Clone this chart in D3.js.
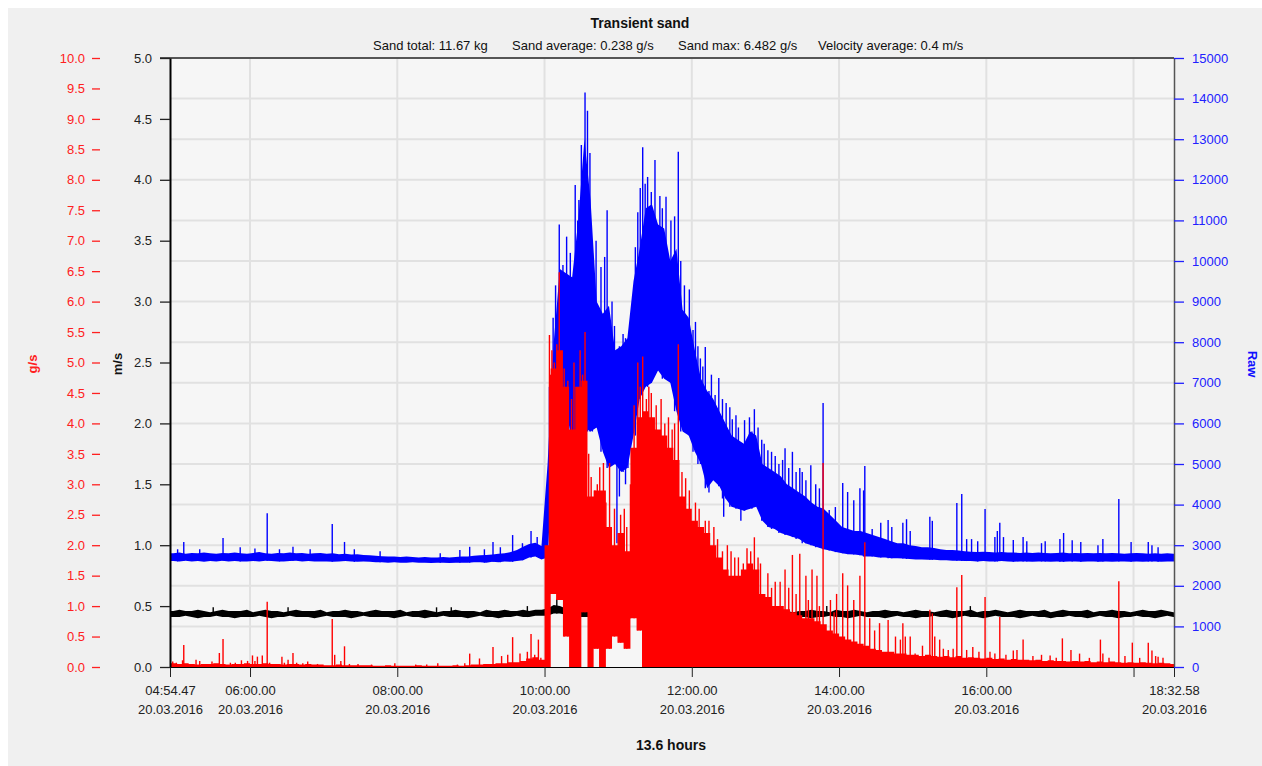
<!DOCTYPE html>
<html>
<head>
<meta charset="utf-8">
<script src="https://cdn.jsdelivr.net/npm/d3@7"></script>
<style>
  html, body { margin: 0; padding: 0; background: #fff; }
  svg { display: block; font-family: "Liberation Sans", Arial, sans-serif; }
</style>
</head>
<body>
<svg id="chart" width="1262" height="766"></svg>
<script>
// ---- data ----
const day = "20.03.2016"
const startTime = "04:54:47"
const endTime = "18:32:58"

// 5 minute bins starting 04:55, each bin: lowest / highest value seen
const binStart = "04:55:00"
const binMinutes = 5

const rawLo = [
  2610,2600,2620,2600,2610,2590,2610,2600,2620,2600,
  2610,2600,2600,2610,2600,2620,2610,2600,2600,2610,
  2620,2600,2610,2600,2600,2600,2590,2600,2610,2600,
  2590,2600,2590,2580,2580,2570,2580,2570,2570,2580,
  2570,2570,2560,2570,2570,2560,2570,2570,2570,2580,
  2580,2570,2590,2580,2600,2590,2610,2630,2700,2720,
  2650,2700,5400,6000,6300,5600,6000,5900,5800,5900,
  5300,4900,5000,4800,4900,5700,6600,6900,7000,7300,
  7100,7000,6300,5800,5700,5300,5000,4400,4600,4450,
  4150,3950,3900,3850,3900,3950,3600,3450,3400,3300,
  3250,3200,3150,3050,3000,2950,2900,2870,2830,2800,
  2780,2770,2750,2720,2720,2700,2700,2680,2680,2670,
  2660,2650,2650,2640,2640,2630,2630,2620,2620,2610,
  2610,2600,2610,2600,2600,2610,2600,2590,2600,2600,
  2590,2600,2600,2590,2600,2590,2600,2600,2590,2600,
  2600,2590,2600,2590,2600,2600,2590,2600,2590,2600,
  2600,2590,2600,2600
]
const rawHi = [
  2800,2820,2790,2810,2800,2820,2800,2790,2810,2800,
  2820,2800,2790,2810,2830,2800,2790,2810,2800,2820,
  2800,2810,2790,2800,2810,2790,2800,2780,2790,2770,
  2780,2760,2750,2740,2730,2720,2720,2710,2720,2710,
  2700,2710,2700,2700,2710,2700,2710,2720,2720,2740,
  2750,2760,2770,2790,2800,2830,2880,2960,3030,3060,
  2980,5000,8000,9800,9700,9600,11000,13000,11500,9000,
  8700,8900,7800,7900,8100,9500,10300,11300,11400,10900,
  10800,10000,10300,8800,8600,7800,7100,6800,6600,6300,
  6000,5700,5600,5500,5800,5700,5000,4900,4800,4700,
  4500,4400,4300,4200,4050,3950,3900,3750,3600,3450,
  3400,3350,3350,3300,3250,3200,3150,3100,3050,3050,
  3000,2980,2950,2950,2930,2900,2880,2880,2870,2850,
  2840,2830,2840,2830,2820,2830,2820,2820,2810,2820,
  2810,2820,2810,2800,2810,2820,2800,2810,2800,2810,
  2800,2810,2800,2810,2800,2790,2800,2810,2800,2790,
  2800,2790,2800,2790
]
const sandLo = [
  0,0,0,0,0,0,0,0,0,0,
  0,0,0,0,0,0,0,0,0,0,
  0,0,0,0,0,0,0,0,0,0,
  0,0,0,0,0,0,0,0,0,0,
  0,0,0,0,0,0,0,0,0,0,
  0,0,0,0,0,0,0,0,0,0,
  0,0,1.2,1.1,0.5,0,0,0.9,0,0.3,
  0,0.3,0.5,0.4,0.3,0.8,0.6,0,0,0,
  0,0,0,0,0,0,0,0,0,0,
  0,0,0,0,0,0,0,0,0,0,
  0,0,0,0,0,0,0,0,0,0,
  0,0,0,0,0,0,0,0,0,0,
  0,0,0,0,0,0,0,0,0,0,
  0,0,0,0,0,0,0,0,0,0,
  0,0,0,0,0,0,0,0,0,0,
  0,0,0,0,0,0,0,0,0,0,
  0,0,0,0
]
const sandHi = [
  0.06,0.05,0.06,0.05,0.04,0.05,0.05,0.06,0.05,0.04,
  0.05,0.05,0.06,0.05,0.05,0.06,0.05,0.05,0.04,0.05,
  0.05,0.04,0.05,0.04,0.04,0.03,0.03,0.04,0.03,0.03,
  0.03,0.03,0.03,0.02,0.02,0.03,0.02,0.02,0.02,0.02,
  0.03,0.02,0.02,0.02,0.02,0.02,0.03,0.02,0.03,0.04,
  0.04,0.05,0.05,0.06,0.06,0.08,0.08,0.10,0.14,0.16,
  0.12,2.0,4.9,5.2,4.6,3.9,4.6,4.7,2.8,2.9,
  2.9,2.3,2.0,2.2,1.9,3.6,4.1,4.2,4.1,3.9,
  3.8,3.6,3.4,2.8,2.6,2.4,2.3,2.2,2.0,1.8,
  1.6,1.5,1.5,1.6,1.7,1.6,1.2,1.15,1.0,1.0,
  0.95,0.9,0.85,0.8,0.8,0.75,0.7,0.6,0.55,0.5,
  0.45,0.42,0.38,0.35,0.3,0.28,0.25,0.25,0.22,0.22,
  0.2,0.2,0.18,0.2,0.18,0.17,0.18,0.16,0.18,0.15,
  0.16,0.15,0.14,0.15,0.13,0.14,0.12,0.13,0.12,0.12,
  0.11,0.12,0.1,0.11,0.1,0.1,0.09,0.1,0.09,0.1,
  0.08,0.09,0.08,0.09,0.08,0.07,0.08,0.07,0.08,0.07,
  0.06,0.07,0.06,0.05
]
const velLo = [
  0.41,0.41,0.42,0.41,0.40,0.41,0.41,0.42,0.41,0.41,
  0.40,0.41,0.41,0.41,0.42,0.41,0.40,0.41,0.41,0.42,
  0.41,0.41,0.41,0.40,0.41,0.42,0.41,0.41,0.41,0.40,
  0.41,0.42,0.41,0.41,0.41,0.41,0.40,0.41,0.42,0.41,
  0.41,0.40,0.41,0.41,0.42,0.41,0.41,0.41,0.40,0.41,
  0.42,0.41,0.41,0.40,0.41,0.41,0.42,0.41,0.41,0.42,
  0.42,0.42,0.44,0.44,0.43,0.42,0.41,0.41,0.41,0.40,
  0.41,0.42,0.41,0.41,0.40,0.42,0.41,0.41,0.41,0.42,
  0.41,0.40,0.41,0.42,0.41,0.41,0.41,0.40,0.41,0.41,
  0.42,0.41,0.41,0.40,0.41,0.41,0.42,0.41,0.40,0.41,
  0.41,0.42,0.41,0.41,0.40,0.41,0.41,0.42,0.41,0.41,
  0.40,0.41,0.42,0.41,0.41,0.41,0.40,0.41,0.42,0.41,
  0.41,0.40,0.41,0.41,0.42,0.41,0.41,0.40,0.41,0.42,
  0.41,0.41,0.40,0.41,0.42,0.41,0.41,0.41,0.40,0.41,
  0.42,0.41,0.41,0.40,0.41,0.41,0.42,0.41,0.41,0.40,
  0.41,0.42,0.41,0.41,0.40,0.41,0.41,0.42,0.41,0.41,
  0.40,0.41,0.42,0.41
]
const velHi = [
  0.46,0.47,0.46,0.46,0.47,0.46,0.45,0.46,0.47,0.46,
  0.46,0.46,0.47,0.45,0.46,0.47,0.46,0.46,0.45,0.46,
  0.47,0.46,0.46,0.46,0.47,0.45,0.46,0.46,0.47,0.46,
  0.46,0.45,0.46,0.47,0.46,0.46,0.46,0.47,0.45,0.46,
  0.46,0.47,0.46,0.45,0.46,0.46,0.47,0.46,0.46,0.46,
  0.45,0.47,0.46,0.46,0.47,0.46,0.46,0.47,0.46,0.47,
  0.47,0.48,0.51,0.50,0.48,0.46,0.47,0.46,0.46,0.45,
  0.46,0.47,0.46,0.46,0.45,0.47,0.46,0.46,0.47,0.46,
  0.46,0.45,0.46,0.47,0.46,0.46,0.46,0.47,0.45,0.46,
  0.47,0.46,0.46,0.45,0.46,0.47,0.46,0.46,0.46,0.47,
  0.46,0.45,0.46,0.46,0.47,0.46,0.46,0.45,0.47,0.46,
  0.46,0.47,0.46,0.45,0.46,0.46,0.47,0.46,0.46,0.45,
  0.46,0.47,0.46,0.46,0.45,0.46,0.47,0.46,0.46,0.46,
  0.47,0.45,0.46,0.46,0.47,0.46,0.45,0.46,0.47,0.46,
  0.46,0.46,0.47,0.45,0.46,0.47,0.46,0.46,0.46,0.47,
  0.45,0.46,0.46,0.47,0.46,0.46,0.45,0.46,0.47,0.46,
  0.46,0.47,0.46,0.45
]

// single spikes [time, value]
const rawSpikes = [
  ["05:01",2900],["05:06",3080],["05:19",2900],["05:38",3180],["05:52",2950],["06:04",2920],
  ["06:14",3790],["06:24",2900],["06:35",2960],["06:49",2900],["07:07",3520],["07:17",3080],
  ["07:25",2900],["07:46",2850],["08:35",2800],["08:51",2880],["08:59",2960],["09:11",2900],
  ["09:18",3080],["09:24",2950],["09:34",3250],["09:42",3050],["09:49",3350],["09:54",3200],
  ["10:04",6900],["10:07",8600],["10:09",9400],["10:12",10900],["10:15",9900],["10:18",10600],
  ["10:21",10200],["10:25",11870],["10:28",11500],["10:30",12860],["10:33",14150],["10:35",13700],
  ["10:37",12660],["10:39",10200],["10:42",10500],["10:46",9850],["10:49",10100],["10:51",11250],
  ["10:55",9000],["10:57",8400],["10:59",3050],["11:04",8200],["11:08",7900],["11:11",8200],
  ["11:14",10340],["11:16",11200],["11:18",11800],["11:20",12800],["11:22",11900],["11:24",12070],
  ["11:27",11700],["11:30",12490],["11:34",11600],["11:36",11300],["11:39",11580],["11:43",11000],
  ["11:46",11100],["11:49",12690],["11:51",10000],["11:54",9400],["11:58",9300],["12:01",8300],
  ["12:03",8500],["12:05",7900],["12:07",7600],["12:09",7400],["12:11",7880],["12:16",7200],
  ["12:19",6700],["12:22",7120],["12:25",6600],["12:28",6500],["12:31",6400],["12:33",6100],
  ["12:36",6200],["12:38",5900],["12:43",6080],["12:47",6150],["12:49",5800],["12:51",6350],
  ["12:54",5900],["12:57",5600],["12:59",5500],["13:02",5340],["13:05",5300],["13:08",5200],
  ["13:11",5000],["13:14",5100],["13:16",5390],["13:19",4900],["13:22",5300],["13:25",4800],
  ["13:28",4900],["13:30",4800],["13:33",4600],["13:37",4970],["13:41",4500],["13:44",4400],
  ["13:47",6500],["13:52",3870],["13:57",3940],["14:03",4530],["14:07",4310],["14:12",4110],
  ["14:17",4400],["14:20",4350],["14:21",4950],["14:27",3400],["14:34",3550],["14:40",3620],
  ["14:43",3450],["14:52",3550],["14:55",3640],["14:58",3350],["15:14",3700],["15:16",3600],
  ["15:36",4040],["15:40",4260],["15:44",3150],["15:48",3150],["15:53",3100],["15:59",3890],
  ["16:07",3200],["16:09",3350],["16:11",3550],["16:14",3200],["16:22",3130],["16:30",3200],
  ["16:33",3100],["16:45",3050],["16:48",3100],["17:00",3150],["17:03",3300],["17:10",3120],
  ["17:17",3080],["17:31",3000],["17:35",3150],["17:48",4140],["17:58",3080],["18:12",3080],
  ["18:15",3000],["18:20",2950],
  ["10:27",4700],["11:01",4200],["11:06",4500],["12:14",4300],["12:26",3700],["12:40",3600]
]
const sandSpikes = [
  ["04:57",0.09],["05:00",0.07],["05:05",0.11],["05:06",0.36],["05:16",0.12],["05:19",0.10],
  ["05:29",0.09],["05:35",0.23],["05:38",0.46],["05:44",0.07],["05:48",0.07],["05:53",0.11],
  ["05:58",0.10],["06:02",0.19],["06:04",0.10],["06:06",0.17],["06:10",0.19],["06:14",1.07],
  ["06:16",0.07],["06:26",0.17],["06:28",0.07],["06:31",0.12],["06:35",0.23],["06:38",0.07],
  ["06:43",0.06],["06:47",0.09],["06:55",0.05],["07:07",0.79],["07:09",0.20],["07:14",0.10],
  ["07:17",0.34],["07:21",0.05],["07:28",0.05],["07:39",0.04],["07:58",0.06],["08:15",0.04],
  ["08:24",0.04],["08:33",0.06],["08:49",0.04],["08:55",0.06],["08:59",0.22],["09:07",0.14],
  ["09:18",0.33],["09:25",0.18],["09:30",0.20],["09:34",0.49],["09:40",0.22],["09:46",0.25],
  ["09:49",0.54],["09:52",0.20],["09:55",0.45],["09:57",0.15],
  ["10:04",5.45],["10:05",4.8],["10:06",5.2],["10:08",5.0],["10:10",5.3],["10:12",6.48],
  ["10:14",4.5],["10:16",4.9],["10:19",4.7],["10:22",4.4],["10:24",5.0],["10:27",4.2],
  ["10:29",5.2],["10:31",4.8],["10:33",5.5],["10:36",3.5],["10:38",3.12],["10:41",2.9],
  ["10:43",3.0],["10:45",3.28],["10:48",3.35],["10:50",2.7],["10:53",3.35],["10:57",2.6],
  ["11:00",2.2],["11:02",2.5],["11:05",2.6],["11:07",2.3],["11:10",3.0],["11:13",4.3],
  ["11:16",5.0],["11:18",4.6],["11:20",5.1],["11:23",4.4],["11:25",4.6],["11:27",4.5],
  ["11:31",4.3],["11:35",4.4],["11:38",4.0],["11:41",4.1],["11:44",3.9],["11:46",4.0],
  ["11:49",5.3],["11:52",3.2],["11:55",3.1],["11:58",2.9],["12:03",2.7],["12:06",2.6],
  ["12:11",2.4],["12:14",2.4],["12:18",2.3],["12:21",2.1],["12:25",1.9],["12:29",2.0],
  ["12:32",1.9],["12:35",1.8],["12:38",1.8],["12:42",1.7],["12:45",1.95],["12:48",1.9],
  ["12:51",2.13],["12:54",1.8],["12:56",1.7],["13:02",1.54],["13:05",1.3],["13:08",1.4],
  ["13:12",1.4],["13:16",1.6],["13:19",1.3],["13:22",1.84],["13:25",1.2],["13:28",1.86],
  ["13:33",1.5],["13:35",1.1],["13:38",1.6],["13:42",1.5],["13:44",1.0],["13:47",3.35],
  ["13:53",1.1],["13:56",0.9],["13:58",1.2],["14:03",1.54],["14:07",1.34],["14:12",1.1],
  ["14:17",1.5],["14:21",2.05],["14:25",0.8],["14:29",0.6],
  ["14:33",0.72],["14:40",0.77],["14:46",0.5],["14:50",0.45],["14:52",0.72],["14:54",0.50],
  ["14:58",0.50],["15:02",0.22],["15:08",0.35],["15:14",0.94],["15:16",0.88],["15:18",0.50],
  ["15:22",0.45],["15:25",0.30],["15:29",0.28],["15:33",0.30],["15:36",1.31],["15:40",1.51],
  ["15:44",0.28],["15:49",0.33],["15:54",0.25],["15:59",1.15],["16:03",0.25],["16:07",0.22],
  ["16:11",0.82],["16:16",0.20],["16:22",0.27],["16:25",0.28],["16:30",0.45],["16:38",0.18],
  ["16:45",0.20],["16:52",0.19],["16:57",0.15],["17:02",0.47],["17:09",0.28],["17:16",0.22],
  ["17:24",0.15],["17:33",0.45],["17:35",0.22],["17:40",0.15],["17:48",1.41],["17:53",0.18],
  ["17:59",0.40],["18:05",0.15],["18:12",0.40],["18:15",0.27],["18:18",0.18],["18:20",0.17],
  ["18:24",0.15]
]
const velSpikes = [
  ["05:30",0.49],["06:31",0.49],["08:32",0.49],["08:44",0.49],["09:46",0.50],
  ["10:10",0.56],["11:15",0.53],["13:50",0.50],["15:47",0.50]
]

// axis ticks
const sandTicks = d3.range(0, 10.01, 0.5)
const velTicks = d3.range(0, 5.01, 0.5)
const rawTicks = d3.range(0, 15001, 1000)
const timeTicks = ["04:54:47","06:00:00","08:00:00","10:00:00","12:00:00","14:00:00","16:00:00","18:00:00","18:32:58"]
const unlabeledTicks = ["18:00:00"]

const title = "Transient sand"
const stats = ["Sand total: 11.67 kg", "Sand average: 0.238 g/s", "Sand max: 6.482 g/s", "Velocity average: 0.4 m/s"]
const durationLabel = "13.6 hours"

// ---- drawing ----
const svg = d3.select("#chart")
const plotL = 170, plotR = 1174, plotT = 58, plotB = 667
const fontFam = "Liberation Sans, Arial, sans-serif"

const parseT = d3.timeParse("%d.%m.%Y %H:%M:%S")
const parseHM = d3.timeParse("%d.%m.%Y %H:%M")
const tStart = parseT(day + " " + startTime)
const tEnd = parseT(day + " " + endTime)
const tBin0 = parseT(day + " " + binStart)

const x = d3.scaleTime().domain([tStart, tEnd]).range([plotL, plotR])
const ySand = d3.scaleLinear().domain([0, 10]).range([plotB, plotT])
const yVel = d3.scaleLinear().domain([0, 5]).range([plotB, plotT])
const yRaw = d3.scaleLinear().domain([0, 15000]).range([plotB, plotT])

svg.append("rect").attr("x", 8).attr("y", 8).attr("width", 1254).attr("height", 758).attr("fill", "#f0f0f0")
svg.append("rect").attr("x", plotL).attr("y", plotT).attr("width", plotR - plotL).attr("height", plotB - plotT).attr("fill", "#f6f6f6")

// grid
svg.append("g").selectAll("line")
  .data(rawTicks.slice(1, -1))
  .join("line")
  .attr("x1", plotL).attr("x2", plotR)
  .attr("y1", d => yRaw(d)).attr("y2", d => yRaw(d))
  .attr("stroke", "#e1e1e1").attr("stroke-width", 2)

const tickDates = timeTicks.map(s => parseT(day + " " + s))
svg.append("g").selectAll("line")
  .data(tickDates.slice(1, -1))
  .join("line")
  .attr("x1", d => x(d)).attr("x2", d => x(d))
  .attr("y1", plotT).attr("y2", plotB)
  .attr("stroke", "#e1e1e1").attr("stroke-width", 2)

// bottom axis
const fmtTime = d3.timeFormat("%H:%M.%S")
const fmtDate = d3.timeFormat("%d.%m.%Y")
const xAxis = svg.append("g")
  .attr("transform", `translate(0,${plotB})`)
  .call(d3.axisBottom(x).tickValues(tickDates).tickSize(10).tickSizeOuter(0).tickPadding(9))
xAxis.select(".domain").attr("stroke", "#000")
xAxis.selectAll(".tick line").attr("stroke", "#222")
xAxis.selectAll(".tick text")
  .attr("font-size", 13).attr("font-family", fontFam).attr("fill", "#222")
  .each(function (d, i) {
    const el = d3.select(this).text(null)
    if (unlabeledTicks.includes(timeTicks[i])) return
    el.append("tspan").attr("x", 0).attr("dy", "0.71em").text(fmtTime(d))
    el.append("tspan").attr("x", 0).attr("dy", "1.42em").text(fmtDate(d))
  })

// data layers
svg.append("clipPath").attr("id", "plotClip")
  .append("rect").attr("x", plotL).attr("y", plotT).attr("width", plotR - plotL).attr("height", plotB - plotT + 2)
const plot = svg.append("g").attr("clip-path", "url(#plotClip)")

const binMs = binMinutes * 60000
function makeBins(lo, hi) {
  // one point in the middle of every bin, plus the first and last sample
  const pts = lo.map((v, i) => ({t: new Date(+tBin0 + (i + 0.5) * binMs), lo: v, hi: hi[i]}))
  pts.unshift({t: tStart, lo: lo[0], hi: hi[0]})
  pts.push({t: tEnd, lo: lo[lo.length - 1], hi: hi[hi.length - 1]})
  return pts
}
function binAt(lo, t) {
  return Math.max(0, Math.min(lo.length - 1, Math.floor((t - tBin0) / binMs)))
}
function drawSeries(lo, hi, spikes, y, color, spikeWidth, curve) {
  const area = d3.area()
    .x(d => x(d.t)).y0(d => y(d.lo)).y1(d => y(d.hi))
    .curve(curve)
  plot.append("path").datum(makeBins(lo, hi)).attr("d", area).attr("fill", color)
  plot.append("g").selectAll("line")
    .data(spikes)
    .join("line")
    .each(function (d) {
      const t = parseHM(day + " " + d[0])
      const k = binAt(lo, t)
      const base = d[1] < lo[k] ? hi[k] : lo[k]
      d3.select(this)
        .attr("x1", x(t)).attr("x2", x(t))
        .attr("y1", y(base)).attr("y2", y(d[1]))
    })
    .attr("stroke", color).attr("stroke-width", spikeWidth)
}

drawSeries(rawLo, rawHi, rawSpikes, yRaw, "#0000ff", 1.4, d3.curveLinear)
drawSeries(velLo, velHi, velSpikes, yVel, "#000000", 1.4, d3.curveLinear)
drawSeries(sandLo, sandHi, sandSpikes, ySand, "#ff0000", 1.4, d3.curveStep)

// frame
svg.append("line").attr("x1", plotL - 10).attr("x2", plotR).attr("y1", plotT).attr("y2", plotT)
  .attr("stroke", "#555").attr("stroke-width", 2)

// velocity axis (m/s)
const velAxis = svg.append("g")
  .attr("transform", `translate(${plotL},0)`)
  .call(d3.axisLeft(yVel).tickValues(velTicks).tickFormat(d3.format(".1f")).tickSize(10).tickSizeOuter(0).tickPadding(8))
velAxis.select(".domain").attr("stroke", "#000").attr("stroke-width", 2)
velAxis.selectAll(".tick line").attr("stroke", "#222").attr("stroke-width", 1.3)
velAxis.selectAll(".tick text").attr("font-size", 13).attr("font-family", fontFam).attr("fill", "#222")

// sand axis (g/s)
const sandAxis = svg.append("g")
  .attr("transform", "translate(100,0)")
  .call(d3.axisLeft(ySand).tickValues(sandTicks).tickFormat(d3.format(".1f")).tickSize(8).tickSizeOuter(0).tickPadding(7))
sandAxis.select(".domain").remove()
sandAxis.selectAll(".tick line").attr("stroke", "#ff2020").attr("stroke-width", 1.3)
sandAxis.selectAll(".tick text").attr("font-size", 13).attr("font-family", fontFam).attr("fill", "#ff2020")

// raw axis
const rawAxis = svg.append("g")
  .attr("transform", `translate(${plotR},0)`)
  .call(d3.axisRight(yRaw).tickValues(rawTicks).tickFormat(d3.format("d")).tickSize(10).tickSizeOuter(0).tickPadding(8))
rawAxis.select(".domain").attr("stroke", "#555").attr("stroke-width", 1.5)
rawAxis.selectAll(".tick line").attr("stroke", "#2020ff").attr("stroke-width", 1.3)
rawAxis.selectAll(".tick text").attr("font-size", 13).attr("font-family", fontFam).attr("fill", "#2020ff")

// axis titles
svg.append("text").attr("transform", "translate(37,364) rotate(-90)")
  .attr("text-anchor", "middle").attr("font-size", 13).attr("font-weight", "bold").attr("fill", "#ff2020").text("g/s")
svg.append("text").attr("transform", "translate(122,364) rotate(-90)")
  .attr("text-anchor", "middle").attr("font-size", 13).attr("font-weight", "bold").attr("fill", "#111").text("m/s")
svg.append("text").attr("transform", "translate(1248,364) rotate(90)")
  .attr("text-anchor", "middle").attr("font-size", 13).attr("font-weight", "bold").attr("fill", "#1010ff").text("Raw")

// titles
svg.append("text").attr("x", 640).attr("y", 28).attr("text-anchor", "middle")
  .attr("font-size", 14).attr("font-weight", "bold").attr("fill", "#111").text(title)
const statX = [373, 512, 678, 818]
svg.append("g").selectAll("text")
  .data(stats)
  .join("text")
  .attr("x", (d, i) => statX[i]).attr("y", 50)
  .attr("font-size", 13).attr("fill", "#111").text(d => d)
svg.append("text").attr("x", 671).attr("y", 750).attr("text-anchor", "middle")
  .attr("font-size", 14).attr("font-weight", "bold").attr("fill", "#111").text(durationLabel)
</script>
</body>
</html>
